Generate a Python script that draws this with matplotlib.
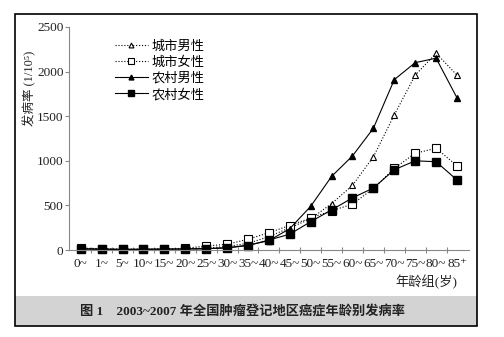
import matplotlib
matplotlib.use("Agg")
import matplotlib.pyplot as plt
from matplotlib.patches import Rectangle
import numpy as np

plt.rcParams['font.family'] = ['Liberation Serif', 'Noto Sans CJK SC', 'DejaVu Sans']

# Age groups and incidence per 100,000
ages = ['0~', '1~', '5~', '10~', '15~', '20~', '25~', '30~', '35~', '40~',
        '45~', '50~', '55~', '60~', '65~', '70~', '75~', '80~', '85⁺']
urban_male = [18, 12, 8, 9, 12, 14, 22, 40, 75, 150,
              250, 350, 520, 725, 1045, 1515, 1960, 2205, 1960]
urban_female = [22, 16, 8, 9, 12, 20, 45, 65, 120, 195,
                275, 360, 440, 515, 690, 915, 1085, 1140, 945]
rural_male = [15, 10, 8, 9, 11, 12, 15, 25, 55, 105,
              240, 490, 825, 1055, 1365, 1910, 2100, 2150, 1705]
rural_female = [12, 8, 7, 7, 9, 12, 15, 25, 50, 112,
                178, 318, 450, 585, 695, 900, 1000, 990, 785]
yticks = [0, 500, 1000, 1500, 2000, 2500]

fig = plt.figure(figsize=(5.04, 3.37), dpi=100)
ax = fig.add_axes([0.137, 0.258, 0.793, 0.662])
x = np.arange(len(ages))

ax.plot(x, urban_male, ':', color='k', lw=0.8, marker='^', ms=5,
        mfc='white', mec='k', mew=0.8, clip_on=False, label='城市男性')
ax.plot(x, urban_female, ':', color='k', lw=0.8, marker='s', ms=6,
        mfc='white', mec='k', mew=0.8, clip_on=False, label='城市女性')
ax.plot(x, rural_male, '-', color='k', lw=0.8, marker='^', ms=5,
        mfc='k', mec='k', clip_on=False, label='农村男性')
ax.plot(x, rural_female, '-', color='k', lw=0.8, marker='s', ms=6,
        mfc='k', mec='k', clip_on=False, label='农村女性')

ax.set_xlim(-0.56, 18.56)
ax.set_ylim(0, 2500)
ax.set_yticks(yticks)
ax.set_xticks(x)
ax.set_xticklabels(ages)
ax.set_xticks(x[:-1] + 0.5, minor=True)
for s in ['top', 'right']:
    ax.spines[s].set_visible(False)
for s in ['left', 'bottom']:
    ax.spines[s].set_color('#888888')
    ax.spines[s].set_linewidth(0.8)
ax.tick_params(axis='y', direction='out', length=3, width=0.8, color='#888888',
               labelsize=9.5, labelcolor='#222222', pad=1)
ax.tick_params(axis='x', which='major', length=0, labelsize=9.5,
               labelcolor='#222222', pad=6)
ax.tick_params(axis='x', which='minor', direction='inout', length=5,
               width=0.8, color='#888888')

leg = ax.legend(loc='upper left', bbox_to_anchor=(115 / 504, 1 - 40 / 337),
                bbox_transform=fig.transFigure, frameon=False, fontsize=9.5,
                handlelength=2.5, handletextpad=0.3, labelspacing=0.28,
                borderpad=0, borderaxespad=0, markerscale=0.7)

fig.text(0.058, 0.739, '发病率 (1/10⁵)', rotation=90, ha='center',
         va='center', fontsize=9, color='#222222')
fig.text(457 / 504, 1 - 282 / 337, '年龄组(岁)', ha='right', va='center',
         fontsize=9.5, color='#222222')

# frame and caption band
fig.patches.append(Rectangle((15 / 504, 1 - 326 / 337), 462 / 504, 30 / 337,
                             transform=fig.transFigure, facecolor='#d3d3d3',
                             edgecolor='none', zorder=0))
fig.patches.append(Rectangle((15 / 504, 1 - 326 / 337), 462 / 504, 312 / 337,
                             transform=fig.transFigure, facecolor='none',
                             edgecolor='k', lw=1.2, zorder=5))
fig.text(243 / 504, 1 - 311 / 337, '图 1　2003~2007 年全国肿瘤登记地区癌症年龄别发病率',
         ha='center', va='center', fontsize=9.5, fontweight='bold', color='#222222')

fig.savefig('out.png', dpi=100)
plt.close('all')
